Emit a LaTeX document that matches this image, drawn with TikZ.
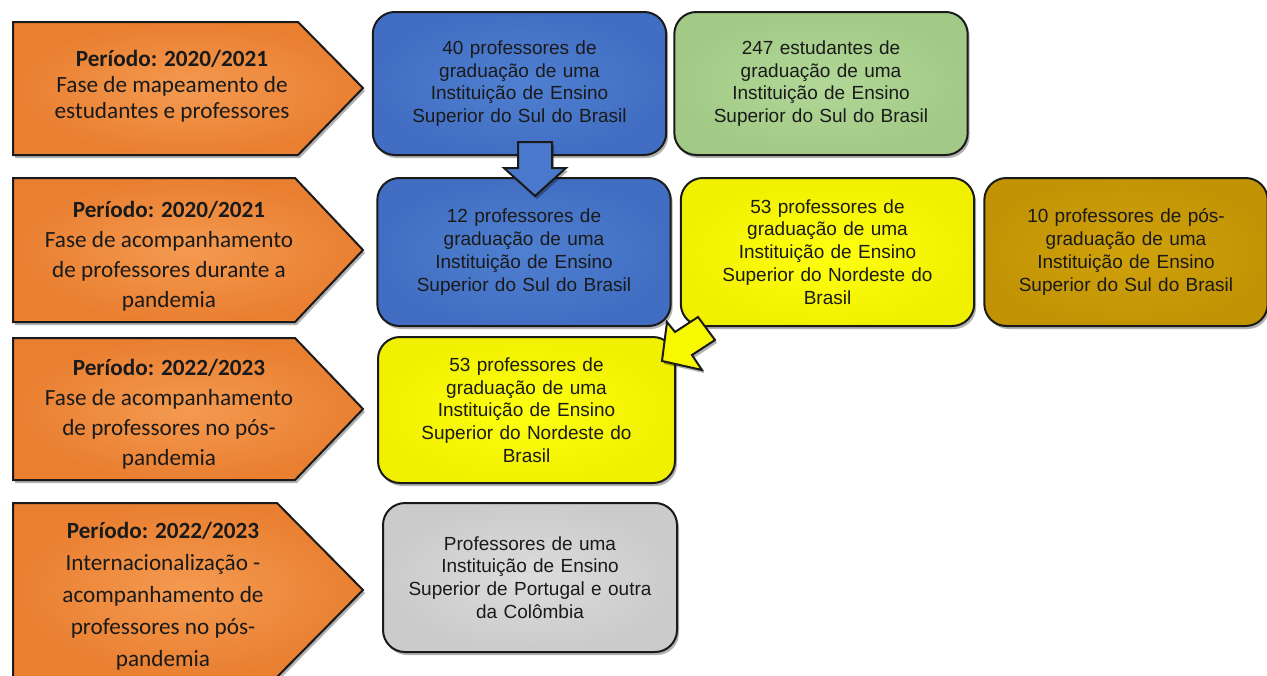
\documentclass[tikz,border=0pt]{standalone}
\usepackage{fontspec}
\setmainfont{Liberation Sans}
\newfontfamily\calibri{Carlito}
\usetikzlibrary{shadows}
\definecolor{orin}{HTML}{F49A50}
\definecolor{orout}{HTML}{E97F31}
\definecolor{blin}{HTML}{5080D2}
\definecolor{blout}{HTML}{416EC2}
\definecolor{grin}{HTML}{B2D797}
\definecolor{grout}{HTML}{A2CA86}
\definecolor{yein}{HTML}{FFFF10}
\definecolor{yeout}{HTML}{F0F000}
\definecolor{goin}{HTML}{D0A20A}
\definecolor{goout}{HTML}{C29304}
\definecolor{gyin}{HTML}{DCDCDC}
\definecolor{gyout}{HTML}{CBCBCB}
\definecolor{blfill}{HTML}{4A78CC}
\definecolor{yefill}{HTML}{F8F800}
\definecolor{edge}{HTML}{1A1A1A}
\definecolor{txt}{HTML}{1A1A1A}
\tikzset{
  shad/.style={drop shadow={shadow xshift=1pt, shadow yshift=-1.5pt, opacity=0.3, fill=black}},
  phase/.style={draw=edge, line width=1pt, inner color=orin, outer color=orout, line join=miter, shad},
  phasetext/.style={align=center, text=txt, font=\calibri\fontsize{11.6}{15}\selectfont},
  box/.style={draw=edge, line width=1pt, rounded corners=11pt, align=center, text=txt,
    minimum width=145pt, minimum height=72pt, text width=140pt,
    font=\fontsize{9.5}{11.4}\selectfont, shad},
  bluebox/.style={box, inner color=blin, outer color=blout},
  greenbox/.style={box, inner color=grin, outer color=grout},
  yellowbox/.style={box, inner color=yein, outer color=yeout},
  goldbox/.style={box, inner color=goin, outer color=goout},
  graybox/.style={box, inner color=gyin, outer color=gyout},
  blockarrow/.style={draw=edge, line width=1pt, line join=miter, shad},
}
\begin{document}
\begin{tikzpicture}[x=0.5pt,y=-0.5pt]
\clip (0,0) rectangle (1267,675);
\fill[white] (0,0) rectangle (1267,675);

% phase arrows
\draw[phase] (13,22) -- (298,22) -- (363,88) -- (298,155) -- (13,155) -- cycle;
\node[phasetext, font=\calibri\fontsize{11.6}{13}\selectfont] (p1) at (172,86)
  {\textbf{Período: 2020/2021}\\Fase de mapeamento de\\estudantes e professores};

\draw[phase] (13,178) -- (295,178) -- (363,250) -- (295,322) -- (13,322) -- cycle;
\node[phasetext] (p2) at (169,256)
  {\textbf{Período: 2020/2021}\\Fase de acompanhamento\\de professores durante a\\pandemia};

\draw[phase] (13,338) -- (295,338) -- (363,409) -- (295,480) -- (13,480) -- cycle;
\node[phasetext] (p3) at (169,414)
  {\textbf{Período: 2022/2023}\\Fase de acompanhamento\\de professores no pós-\\pandemia};

\draw[phase] (13,503) -- (277,503) -- (363,590) -- (277,677) -- (13,677) -- cycle;
\node[phasetext, font=\calibri\fontsize{11.6}{16}\selectfont] (p4) at (163,596)
  {\textbf{Período: 2022/2023}\\Internacionalização -\\acompanhamento de\\professores no pós-\\pandemia};

% boxes
\node[bluebox, minimum width=145.5pt, minimum height=71.5pt] (b1) at (519.5,83.5)
  {40 professores de\\graduação de uma\\Instituição de Ensino\\Superior do Sul do Brasil};
\node[greenbox, minimum width=146pt, minimum height=71.5pt] (g1) at (821,83.5)
  {247 estudantes de\\graduação de uma\\Instituição de Ensino\\Superior do Sul do Brasil};
\node[bluebox, minimum width=146pt, minimum height=74pt] (b2) at (524,252)
  {12 professores de\\graduação de uma\\Instituição de Ensino\\Superior do Sul do Brasil};
\node[yellowbox, minimum width=145.5pt, minimum height=74pt] (y1) at (827.5,252)
  {53 professores de\\graduação de uma\\Instituição de Ensino\\Superior do Nordeste do\\Brasil};
\node[goldbox, minimum width=140pt, minimum height=74pt, text width=135pt] (o1) at (1126,252)
  {10 professores de pós-\\graduação de uma\\Instituição de Ensino\\Superior do Sul do Brasil};
\node[yellowbox, minimum width=148.5pt, minimum height=73pt] (y2) at (526.5,410)
  {53 professores de\\graduação de uma\\Instituição de Ensino\\Superior do Nordeste do\\Brasil};
\node[graybox, minimum width=147pt, minimum height=74.5pt] (c1) at (530,577.5)
  {Professores de uma\\Instituição de Ensino\\Superior de Portugal e outra\\da Colômbia};

% block arrows
\draw[blockarrow, fill=blfill] (518,142) -- (552,142) -- (552,168) -- (566,168) -- (535,196)
  -- (504,168) -- (518,168) -- cycle;
\draw[blockarrow, fill=yefill] (662,361) -- (667,322) -- (675,332) -- (698,317) -- (715,340)
  -- (692,355) -- (702,370) -- cycle;
\end{tikzpicture}
\end{document}
